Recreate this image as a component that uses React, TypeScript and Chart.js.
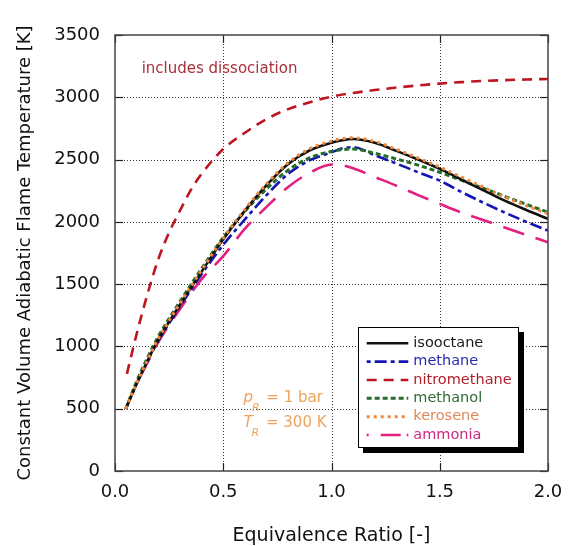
import React, { useEffect, useRef } from 'react';
import { Chart, registerables } from 'chart.js';
Chart.register(...registerables);

// ---------- data ----------
const PHI = [0.05, 0.1, 0.15, 0.2, 0.3, 0.4, 0.5, 0.6, 0.7, 0.8, 0.9, 1.0, 1.05, 1.1, 1.2, 1.3, 1.4, 1.5, 1.6, 1.7, 1.8, 1.9, 2.0];
const ISOOCTANE = [500, 700, 885, 1055, 1335, 1600, 1860, 2090, 2295, 2465, 2575, 2635, 2655, 2665, 2635, 2570, 2500, 2425, 2340, 2255, 2170, 2095, 2024];
const KEROSENE = [500, 705, 890, 1062, 1345, 1612, 1870, 2100, 2305, 2475, 2588, 2648, 2668, 2675, 2645, 2582, 2512, 2440, 2360, 2280, 2200, 2130, 2065];
const METHANOL = [500, 720, 910, 1080, 1360, 1625, 1875, 2085, 2265, 2415, 2515, 2565, 2580, 2585, 2550, 2505, 2455, 2398, 2335, 2270, 2205, 2140, 2077];
const METHANE = [500, 700, 880, 1045, 1320, 1580, 1815, 2020, 2215, 2385, 2495, 2558, 2590, 2600, 2535, 2468, 2398, 2331, 2240, 2155, 2075, 2000, 1930];
const AMMONIA = [500, 700, 870, 1035, 1300, 1540, 1725, 1945, 2120, 2280, 2395, 2460, 2455, 2430, 2360, 2290, 2215, 2144, 2075, 2015, 1955, 1895, 1836];
const NITRO_PHI = [0.055, 0.1, 0.15, 0.2, 0.25, 0.3, 0.35, 0.4, 0.5, 0.6, 0.7, 0.8, 0.9, 1.0, 1.1, 1.2, 1.3, 1.4, 1.5, 1.6, 1.7, 1.8, 1.9, 2.0];
const NITROMETHANE = [780, 1100, 1420, 1700, 1915, 2090, 2255, 2385, 2585, 2715, 2825, 2905, 2960, 3005, 3035, 3058, 3078, 3095, 3110, 3122, 3131, 3138, 3143, 3147];

const X_MIN = 0, X_MAX = 2, X_STEP = 0.5;
const Y_MIN = 0, Y_MAX = 3500, Y_STEP = 500;
const X_TITLE = 'Equivalence Ratio [-]';
const Y_TITLE = 'Constant Volume Adiabatic Flame Temperature [K]';
const NOTE_DISSOC = 'includes dissociation';

// ---------- styles ----------
const FONT = "'DejaVu Sans', sans-serif";
const SERIES = [
  { name: 'isooctane', color: '#111111', text: '#1a1a1a', dash: [] as number[], legendDash: [] as number[], width: 2.6 },
  { name: 'methane', color: '#1414b4', text: '#2a2ab0', dash: [12, 4, 4, 4], legendDash: [4, 4, 12, 4], width: 2.6 },
  { name: 'nitromethane', color: '#be1620', text: '#b0202c', dash: [10, 7], legendDash: [10, 7], width: 2.6 },
  { name: 'methanol', color: '#256b2a', text: '#2e6b35', dash: [5, 3], legendDash: [5, 3], width: 3 },
  { name: 'kerosene', color: '#f0883c', text: '#e0885a', dash: [3, 4], legendDash: [3, 4], width: 3 },
  { name: 'ammonia', color: '#e3207f', text: '#cc2a80', dash: [22, 12], legendDash: [2, 12, 20, 6], width: 2.6 },
];
const VALUES: Record<string, number[]> = {
  isooctane: ISOOCTANE, methane: METHANE, nitromethane: NITROMETHANE,
  methanol: METHANOL, kerosene: KEROSENE, ammonia: AMMONIA,
};
const DRAW_ORDER = ['kerosene', 'isooctane', 'methanol', 'methane', 'ammonia', 'nitromethane'];

const decorPlugin = {
  id: 'decor',
  beforeDatasetsDraw(chart: any) {
    const { ctx, chartArea: a, scales } = chart;
    const xs = scales.x, ys = scales.y;
    ctx.save();
    ctx.strokeStyle = '#333';
    ctx.lineWidth = 1;
    ctx.setLineDash([1, 2]);
    xs.ticks.forEach((t: any) => {
      if (t.value <= X_MIN || t.value >= X_MAX) return;
      const p = Math.round(xs.getPixelForValue(t.value)) + 0.5;
      ctx.beginPath(); ctx.moveTo(p, a.top); ctx.lineTo(p, a.bottom); ctx.stroke();
    });
    ys.ticks.forEach((t: any) => {
      if (t.value <= Y_MIN || t.value >= Y_MAX) return;
      const p = Math.round(ys.getPixelForValue(t.value)) + 0.5;
      ctx.beginPath(); ctx.moveTo(a.left, p); ctx.lineTo(a.right, p); ctx.stroke();
    });
    ctx.setLineDash([]);
    ctx.strokeStyle = '#222';
    ctx.lineWidth = 1.2;
    const L = 8;
    xs.ticks.forEach((t: any) => {
      const p = Math.round(xs.getPixelForValue(t.value)) + 0.5;
      ctx.beginPath(); ctx.moveTo(p, a.bottom); ctx.lineTo(p, a.bottom - L); ctx.stroke();
      ctx.beginPath(); ctx.moveTo(p, a.top); ctx.lineTo(p, a.top + L); ctx.stroke();
    });
    ys.ticks.forEach((t: any) => {
      const p = Math.round(ys.getPixelForValue(t.value)) + 0.5;
      ctx.beginPath(); ctx.moveTo(a.left, p); ctx.lineTo(a.left + L, p); ctx.stroke();
      ctx.beginPath(); ctx.moveTo(a.right, p); ctx.lineTo(a.right - L, p); ctx.stroke();
    });
    ctx.restore();
  },
  afterDatasetsDraw(chart: any) {
    const { ctx, chartArea: a, scales } = chart;
    const xs = scales.x, ys = scales.y;
    ctx.save();
    // frame
    ctx.strokeStyle = '#444';
    ctx.lineWidth = 1.5;
    ctx.strokeRect(a.left, a.top, a.right - a.left, a.bottom - a.top);

    // annotation: includes dissociation
    ctx.fillStyle = '#a8303a';
    ctx.font = `15px ${FONT}`;
    ctx.textAlign = 'left';
    ctx.textBaseline = 'middle';
    ctx.fillText(NOTE_DISSOC, xs.getPixelForValue(0.123), ys.getPixelForValue(3227));

    // reference conditions
    ctx.fillStyle = '#eda45a';
    const drawCond = (sym: string, rest: string, yVal: number) => {
      const x0 = xs.getPixelForValue(0.593);
      const y0 = ys.getPixelForValue(yVal);
      ctx.font = `italic 15px ${FONT}`;
      ctx.fillText(sym, x0, y0);
      const w1 = ctx.measureText(sym).width;
      ctx.font = `italic 11px ${FONT}`;
      ctx.fillText('R', x0 + w1 - 1, y0 + 10);
      const w2 = ctx.measureText('R').width;
      ctx.font = `15px ${FONT}`;
      ctx.fillText(rest, x0 + w1 + w2 + 1, y0);
    };
    drawCond('p', ' = 1 bar', 583);
    drawCond('T', ' = 300 K', 383);

    // legend
    const bx = a.left + 243, by = a.top + 292, bw = 161, bh = 121;
    ctx.fillStyle = '#000';
    ctx.fillRect(bx + 5, by + 5, bw, bh);
    ctx.fillStyle = '#fff';
    ctx.fillRect(bx, by, bw, bh);
    ctx.strokeStyle = '#000';
    ctx.lineWidth = 1;
    ctx.strokeRect(bx + 0.5, by + 0.5, bw - 1, bh - 1);
    SERIES.forEach((s, i) => {
      const ry = a.top + 308.3 + i * 18.35;
      ctx.strokeStyle = s.color;
      ctx.lineWidth = s.width;
      ctx.setLineDash(s.legendDash);
      ctx.beginPath();
      ctx.moveTo(a.left + 251.7, ry);
      ctx.lineTo(a.left + 293.3, ry);
      ctx.stroke();
      ctx.setLineDash([]);
      ctx.fillStyle = s.text;
      ctx.font = `14.5px ${FONT}`;
      ctx.textAlign = 'left';
      ctx.textBaseline = 'middle';
      ctx.fillText(s.name, a.left + 298.3, ry);
    });
    ctx.restore();
  },
};

export default function App() {
  const ref = useRef<HTMLCanvasElement | null>(null);
  useEffect(() => {
    if (!ref.current) return;
    const datasets = DRAW_ORDER.map((name) => {
      const s = SERIES.find((q) => q.name === name)!;
      const xsArr = name === 'nitromethane' ? NITRO_PHI : PHI;
      const vals = VALUES[name];
      return {
        label: name,
        data: xsArr.map((x, i) => ({ x, y: vals[i] })),
        borderColor: s.color,
        backgroundColor: s.color,
        borderWidth: s.width,
        borderDash: s.dash,
        pointRadius: 0,
        fill: false,
        cubicInterpolationMode: 'monotone' as const,
      };
    });
    const chart = new Chart(ref.current, {
      type: 'line',
      data: { datasets },
      plugins: [decorPlugin],
      options: {
        animation: false,
        responsive: false,
        devicePixelRatio: 1,
        layout: { padding: { left: 0, right: 26, top: 35, bottom: 0 } },
        plugins: { legend: { display: false }, tooltip: { enabled: false } },
        scales: {
          x: {
            type: 'linear',
            min: X_MIN, max: X_MAX,
            afterFit: (s: any) => { s.height = 75; },
            ticks: {
              stepSize: X_STEP,
              color: '#111',
              font: { family: FONT, size: 18 },
              padding: 11,
              callback: (v: any) => Number(v).toFixed(1),
            },
            grid: { display: false, drawTicks: false },
            border: { display: false },
            title: {
              display: true, text: X_TITLE, color: '#111',
              font: { family: FONT, size: 19, lineHeight: 1 },
              padding: { top: 0, bottom: 0 },
            },
          },
          y: {
            type: 'linear',
            min: Y_MIN, max: Y_MAX,
            afterFit: (s: any) => { s.width = 115; },
            ticks: {
              stepSize: Y_STEP,
              color: '#111',
              font: { family: FONT, size: 18 },
              padding: 15,
              callback: (v: any) => String(v),
            },
            grid: { display: false, drawTicks: false },
            border: { display: false },
            title: {
              display: true, text: Y_TITLE, color: '#111',
              font: { family: FONT, size: 18, lineHeight: 1.2 },
              padding: { top: 15, bottom: 0 },
            },
          },
        },
      } as any,
    });
    return () => chart.destroy();
  }, []);
  return (
    <div style={{ position: 'fixed', left: 0, top: 0, width: 574, height: 546, background: '#fff' }}>
      <canvas ref={ref} width={574} height={546} style={{ display: 'block' }} />
    </div>
  );
}
